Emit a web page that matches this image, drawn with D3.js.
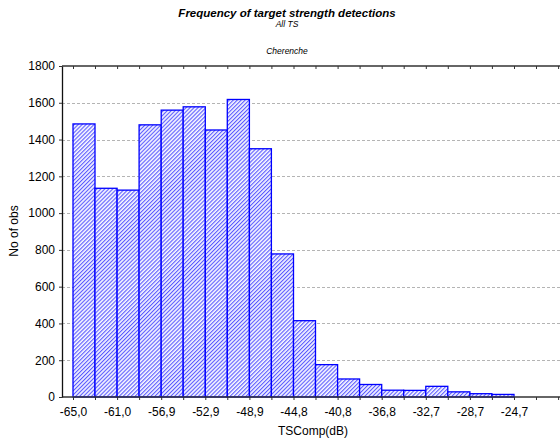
<!DOCTYPE html>
<html>
<head>
<meta charset="utf-8">
<script src="https://cdn.jsdelivr.net/npm/d3@7"></script>
<style>
  html, body { margin: 0; padding: 0; background: #fff; }
  svg { display: block; font-family: "Liberation Sans", Arial, sans-serif; }
</style>
</head>
<body>
<svg id="chart" width="560" height="439"></svg>
<script>
// Histogram bin edges (dB) and counts per bin
const binEdges = [-65.00, -62.99, -60.97, -58.96, -56.94, -54.93, -52.91, -50.90, -48.88, -46.87,
                  -44.85, -42.84, -40.82, -38.81, -36.79, -34.78, -32.76, -30.75, -28.73, -26.72, -24.70];
const counts = [1485, 1135, 1125, 1480, 1560, 1578, 1452, 1618, 1350, 778,
                415, 176, 98, 68, 37, 36, 58, 28, 18, 14];
// extra (empty) bin edges shown as ticks past the last bar
const extraEdges = [-22.69, -20.67];
const xTickLabels = ["-65,0", "-61,0", "-56,9", "-52,9", "-48,9", "-44,8",
                     "-40,8", "-36,8", "-32,7", "-28,7", "-24,7"];
const yTicks = [0, 200, 400, 600, 800, 1000, 1200, 1400, 1600, 1800];

const title = "Frequency of target strength detections";
const subtitle = "All TS";
const caption = "Cherenche";
const xTitle = "TSComp(dB)";
const yTitle = "No of obs";

(function draw() {
  const svg = d3.select("#chart");
  const pLeft = 62, pTop = 66, pBottom = 397, pRight = 560;

  const x = d3.scaleLinear().domain([-65.00, -24.70]).range([73, 514]);
  const y = d3.scaleLinear().domain([0, 1800]).range([pBottom, pTop]);

  // fine diagonal hatch for bars
  const defs = svg.append("defs");
  const pat = defs.append("pattern")
    .attr("id", "hatch")
    .attr("patternUnits", "userSpaceOnUse")
    .attr("width", 2.8).attr("height", 2.8)
    .attr("patternTransform", "rotate(45)");
  pat.append("rect").attr("width", 2.8).attr("height", 2.8).attr("fill", "#f6f6ff");
  pat.append("rect").attr("width", 1.1).attr("height", 2.8).attr("fill", "#5a5aff");

  // gridlines
  svg.append("g")
    .selectAll("line")
    .data(yTicks.filter(d => d > 0 && d < 1800))
    .join("line")
    .attr("x1", pLeft).attr("x2", pRight)
    .attr("y1", d => Math.round(y(d)) + 0.5).attr("y2", d => Math.round(y(d)) + 0.5)
    .attr("stroke", "#b4b4b4").attr("stroke-width", 1)
    .attr("stroke-dasharray", "3,2");

  // bars
  const bins = counts.map((c, i) => ({x0: binEdges[i], x1: binEdges[i + 1], n: c}));
  svg.append("g")
    .selectAll("rect")
    .data(bins)
    .join("rect")
    .attr("x", d => x(d.x0))
    .attr("y", d => y(d.n))
    .attr("width", d => x(d.x1) - x(d.x0))
    .attr("height", d => y(0) - y(d.n))
    .attr("fill", "url(#hatch)")
    .attr("stroke", "#0000ff")
    .attr("stroke-width", 1.3);

  const allEdges = binEdges.concat(extraEdges);

  // bottom axis
  const xAxis = d3.axisBottom(x)
    .tickValues(allEdges)
    .tickSizeInner(3).tickSizeOuter(0)
    .tickFormat((d, i) => (i % 2 === 0 && i / 2 < xTickLabels.length) ? xTickLabels[i / 2] : "");
  const gx = svg.append("g").attr("transform", `translate(0,${pBottom})`).call(xAxis);
  gx.select(".domain").remove();
  gx.append("line").attr("x1", pLeft).attr("x2", pRight).attr("y1", 0).attr("y2", 0)
    .attr("stroke", "#333").attr("stroke-width", 1.6);
  gx.selectAll(".tick line").attr("stroke", "#333");
  gx.selectAll(".tick text").attr("font-size", 12).attr("fill", "#000")
    .attr("font-family", "Liberation Sans, Arial, sans-serif").attr("dy", "1.05em");

  // top border with inward ticks
  const xTop = d3.axisBottom(x).tickValues(allEdges).tickSizeInner(3).tickSizeOuter(0).tickFormat("");
  const gt = svg.append("g").attr("transform", `translate(0,${pTop})`).call(xTop);
  gt.select(".domain").remove();
  gt.append("line").attr("x1", pLeft).attr("x2", pRight).attr("y1", 0).attr("y2", 0)
    .attr("stroke", "#333").attr("stroke-width", 1.4);
  gt.selectAll(".tick line").attr("stroke", "#333");

  // left axis
  const yAxis = d3.axisLeft(y).tickValues(yTicks).tickFormat(d3.format("d"))
    .tickSizeInner(3).tickSizeOuter(0).tickPadding(4);
  const gy = svg.append("g").attr("transform", `translate(${pLeft},0)`).call(yAxis);
  gy.select(".domain").attr("stroke", "#111").attr("stroke-width", 1.3);
  gy.selectAll(".tick line").attr("stroke", "#333");
  gy.selectAll(".tick text").attr("font-size", 12).attr("fill", "#000")
    .attr("font-family", "Liberation Sans, Arial, sans-serif");

  // titles
  svg.append("text").attr("x", 287).attr("y", 17).attr("text-anchor", "middle")
    .attr("font-size", 11.5).attr("font-weight", "bold").attr("font-style", "italic")
    .text(title);
  svg.append("text").attr("x", 287).attr("y", 27).attr("text-anchor", "middle")
    .attr("font-size", 8.5).attr("font-style", "italic").text(subtitle);
  svg.append("text").attr("x", 287).attr("y", 54).attr("text-anchor", "middle")
    .attr("font-size", 8.5).attr("font-style", "italic").text(caption);

  svg.append("text").attr("x", 313).attr("y", 435).attr("text-anchor", "middle")
    .attr("font-size", 12).text(xTitle);
  svg.append("text").attr("transform", "translate(18,231) rotate(-90)")
    .attr("text-anchor", "middle").attr("font-size", 12).text(yTitle);
})();
</script>
</body>
</html>
